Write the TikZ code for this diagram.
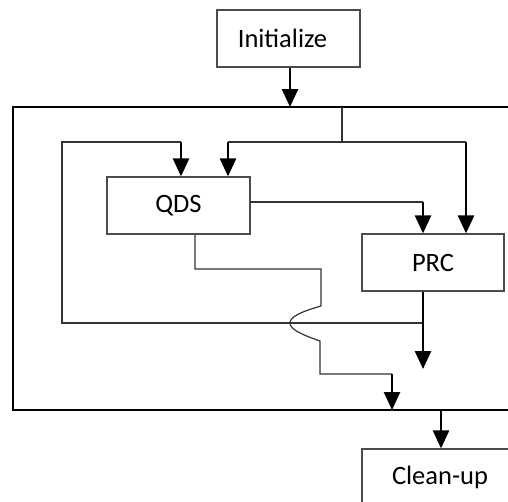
\documentclass[tikz,border=0pt]{standalone}
\usepackage{fontspec}
\setmainfont{Carlito}
\usetikzlibrary{arrows.meta}
\begin{document}
\begin{tikzpicture}[x=1pt,y=-1pt,
  box/.style={draw=black!70,line width=1.2pt,minimum width=143pt,minimum height=57pt,inner sep=0pt,font=\fontsize{26.5}{30}\selectfont,text=black},
  thin/.style={draw=black!80,line width=1.2pt},
  thick/.style={draw=black,line width=2.6pt,-{Triangle[length=18pt,width=16pt]}}]
\clip (0,0) rectangle (508,501);
\fill[white] (0,0) rectangle (508,501);
% nodes
\node[box] (init) at (288.5,38.5) {Initialize\hspace*{12pt}};
\node[box] (qds) at (178.5,205.5) {QDS};
\node[box,minimum width=142pt] (prc) at (433,262.5) {PRC};
\node[box,minimum width=156pt,minimum height=56pt] (clean) at (440,477) {Clean-up};
% frame
\coordinate (fTR) at (520,107);
\coordinate (fTL) at (13,107);
\coordinate (fBL) at (13,410);
\coordinate (fBR) at (520,410);
\draw[thin,draw=black] (fTR) -- (fTL) -- (fBL) -- (fBR);
% init arrow
\coordinate (fin) at (290,107);
\draw[thick] (init.south -| fin) -- (fin);
% junction and inner top line
\coordinate (j1) at (342,107);
\coordinate (j2) at (342,142);
\coordinate (tq) at (228,142);
\coordinate (tp) at (466,142);
\draw[thin] (j1) -- (j2);
\draw[thin] (tq) -- (tp);
\draw[thick] (tq) -- (qds.north -| tq);
\draw[thick] (tp) -- (prc.north -| tp);
% left loop
\coordinate (l1) at (423,323);
\coordinate (l2) at (62,323);
\coordinate (l3) at (62,142);
\coordinate (l4) at (181,142);
\draw[thin] (l1) -- (l2) -- (l3) -- (l4);
\draw[thick] (l4) -- (qds.north -| l4);
% QDS to PRC
\coordinate (qr) at (250,202);
\coordinate (qp) at (423,202);
\draw[thin] (qr) -- (qp);
\draw[thick] (qp) -- (prc.north -| qp);
% PRC out
\coordinate (pout) at (423,369);
\draw[thick] (prc.south -| pout) -- (pout);
% QDS bottom path with jump
\coordinate (b0) at (195,234);
\coordinate (b1) at (195,269);
\coordinate (b2) at (321,269);
\coordinate (b3) at (321,306);
\coordinate (b4) at (290,323);
\coordinate (b5) at (320,341);
\coordinate (b6) at (320,374);
\coordinate (b7) at (392,374);
\coordinate (b8) at (392,410);
\draw[thin] (qds.south -| b0) -- (b1) -- (b2) -- (b3)
  .. controls (300,312) and (290,317) .. (b4)
  .. controls (290,329) and (300,334) .. (b5) -- (b6) -- (b7);
\draw[thick] (b7) -- (b8);
% to clean-up
\coordinate (c0) at (441,410);
\draw[thick] (c0) -- (clean.north -| c0);
\end{tikzpicture}
\end{document}
